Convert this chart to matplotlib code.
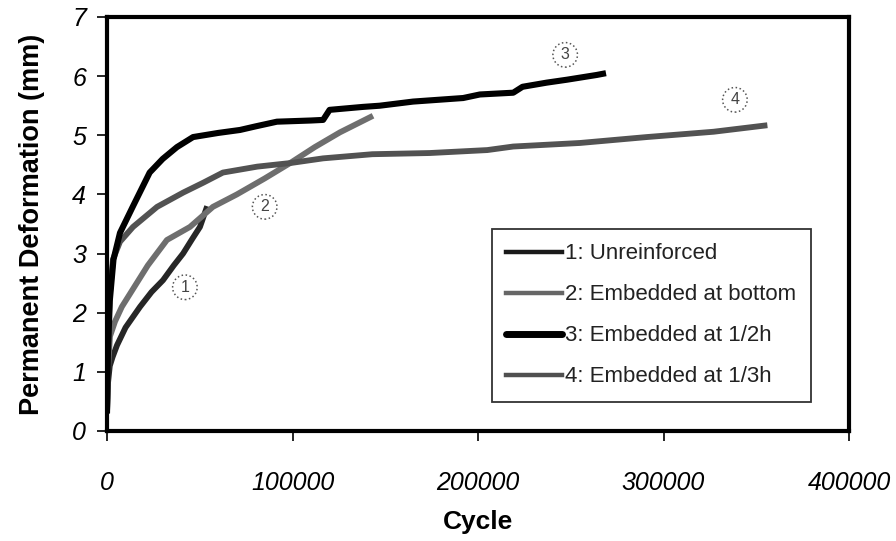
import matplotlib
matplotlib.use("Agg")
import matplotlib.pyplot as plt
from matplotlib.lines import Line2D

plt.rcParams['font.family'] = ['Liberation Sans', 'DejaVu Sans']

# ---- data ----
x1 = [0, 500, 1500, 3000, 5400, 10000, 17800, 24000, 30200, 36000, 41000, 46000, 50100, 54000]
y1 = [0.3, 0.8, 1.1, 1.25, 1.45, 1.75, 2.1, 2.35, 2.55, 2.8, 3.0, 3.25, 3.45, 3.8]

x2 = [0, 500, 1600, 4300, 8000, 14000, 22000, 32300, 44700, 57100, 70000, 85000, 98700, 112000, 125600, 143400]
y2 = [0.3, 1.0, 1.6, 1.85, 2.1, 2.4, 2.8, 3.23, 3.45, 3.79, 4.0, 4.27, 4.53, 4.8, 5.05, 5.33]

x3 = [0, 500, 1500, 3500, 7000, 14000, 23000, 30000, 37700, 46400, 60000, 71700, 80000, 91600,
      110000, 116500, 120000, 138000, 147000, 165000, 192000, 201000, 219000, 224000, 237000,
      248000, 264000, 269000]
y3 = [0.3, 1.3, 2.2, 2.9, 3.35, 3.8, 4.37, 4.6, 4.8, 4.97, 5.04, 5.09, 5.15, 5.23,
      5.25, 5.26, 5.43, 5.48, 5.5, 5.57, 5.63, 5.69, 5.72, 5.82, 5.89,
      5.94, 6.02, 6.05]

x4 = [0, 500, 1500, 3200, 7000, 14000, 27000, 41000, 52000, 62500, 81000, 98700, 116500, 143000,
      174000, 205000, 219000, 255000, 291000, 327000, 356000]
y4 = [0.3, 1.5, 2.3, 2.9, 3.2, 3.45, 3.79, 4.03, 4.2, 4.37, 4.47, 4.53, 4.61, 4.68,
      4.70, 4.75, 4.81, 4.87, 4.97, 5.06, 5.17]

labels = ["1: Unreinforced", "2: Embedded at bottom", "3: Embedded at 1/2h", "4: Embedded at 1/3h"]
tags = ["1", "2", "3", "4"]
tag_x = [42000, 85000, 247000, 338500]
tag_y = [2.43, 3.79, 6.36, 5.6]

xticks = [0, 100000, 200000, 300000, 400000]
yticks = [0, 1, 2, 3, 4, 5, 6, 7]

# ---- figure ----
fig = plt.figure(figsize=(8.96, 5.41), dpi=100)
ax = fig.add_axes([107/896, 1-431/541, (849-107)/896, (431-17)/541])

ax.plot(x1, y1, color='#262626', lw=4.2, solid_capstyle='butt')
ax.plot(x2, y2, color='#6e6e6e', lw=4.2, solid_capstyle='butt')
ax.plot(x4, y4, color='#525252', lw=4.2, solid_capstyle='butt')
ax.plot(x3, y3, color='#000000', lw=4.4, solid_capstyle='butt')

ax.set_xlim(0, 400000)
ax.set_ylim(0, 7)
ax.set_xticks(xticks)
ax.set_yticks(yticks)
ax.set_xticklabels([str(v) for v in xticks], fontsize=18, style='italic')
ax.set_yticklabels([str(v) for v in yticks], fontsize=18, style='italic')
ax.tick_params(axis='both', direction='out', length=7, width=1.2, color='black')
ax.tick_params(axis='x', pad=22)
ax.tick_params(axis='y', pad=8)

for s in ax.spines.values():
    s.set_linewidth(3.0)
    s.set_color('black')

ax.set_xlabel("Cycle", fontsize=19, fontweight='bold')
ax.set_ylabel("Permanent Deformation (mm)", fontsize=19.5, fontweight='bold')
ax.xaxis.set_label_coords((478-107)/742, -(510-431)/414)
ax.yaxis.set_label_coords(-(107-45)/742, 0.5)

for t, tx, ty in zip(tags, tag_x, tag_y):
    ax.text(tx, ty, t, fontsize=11.5, ha='center', va='center', color='#444444',
            bbox=dict(boxstyle='circle,pad=0.3', fc='white', ec='#555555', lw=1.1, ls=':'))

h1 = Line2D([], [], color='#1a1a1a', lw=3.2)
h2 = Line2D([], [], color='#666666', lw=3.2)
h3 = Line2D([], [], color='#000000', lw=5.0, solid_capstyle='round')
h4 = Line2D([], [], color='#505050', lw=3.2)
leg = ax.legend([h1, h2, h3, h4], labels, loc='upper left',
                bbox_to_anchor=(492/896, 1-229/541), bbox_transform=fig.transFigure,
                fontsize=16, frameon=True, fancybox=False, borderaxespad=0,
                handlelength=2.5, handletextpad=0.15, labelspacing=0.9,
                borderpad=0.65)
leg.get_frame().set_edgecolor('black')
leg.get_frame().set_linewidth(1.3)
for txt in leg.get_texts():
    txt.set_color('#222222')

fig.savefig("out.png", dpi=100)
